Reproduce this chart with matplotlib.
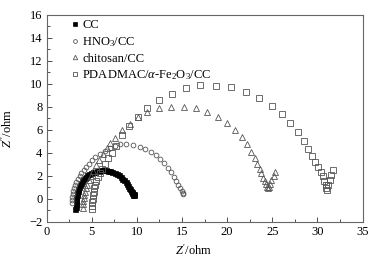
import matplotlib
matplotlib.use("Agg")
import matplotlib.pyplot as plt

plt.rcParams["font.family"] = "Liberation Serif"
plt.rcParams["mathtext.fontset"] = "custom"
plt.rcParams["mathtext.rm"] = "Liberation Serif"
plt.rcParams["mathtext.it"] = "Liberation Serif:italic"

# CC
cc_x = [3.2, 3.22, 3.24, 3.26, 3.28, 3.31, 3.35, 3.4, 3.46, 3.53, 3.61, 3.7, 3.8, 3.92,
        4.05, 4.2, 4.36, 4.53, 4.72, 4.92, 5.13, 5.35, 5.58, 5.82, 6.06, 6.3, 6.55, 6.8,
        7.05, 7.3, 7.54, 7.77, 8.0, 8.2, 8.4, 8.58, 8.75, 8.9, 9.04, 9.16, 9.27, 9.36,
        9.44, 9.5, 9.56, 9.6, 9.65, 9.68]
cc_y = [-0.9, -0.7, -0.5, -0.3, -0.1, 0.1, 0.3, 0.5, 0.7, 0.88, 1.05, 1.22, 1.38, 1.53,
        1.67, 1.8, 1.92, 2.03, 2.13, 2.22, 2.3, 2.36, 2.41, 2.44, 2.46, 2.46, 2.45, 2.42,
        2.38, 2.32, 2.24, 2.14, 2.02, 1.89, 1.75, 1.6, 1.44, 1.28, 1.12, 0.96, 0.82, 0.68,
        0.56, 0.46, 0.38, 0.33, 0.32, 0.36]

# HNO3/CC
hno3_x = [2.8, 2.82, 2.85, 2.9, 2.97, 3.05, 3.15, 3.3, 3.45, 3.65, 3.85, 4.1, 4.35, 4.65,
          5.0, 5.4, 5.9, 6.45, 7.0, 7.55, 8.15, 8.85, 9.6, 10.3, 10.95, 11.55, 12.1, 12.6,
          13.05, 13.45, 13.8, 14.1, 14.35, 14.6, 14.8, 14.97, 15.1, 15.15]
hno3_y = [-0.35, -0.1, 0.15, 0.4, 0.65, 0.9, 1.15, 1.45, 1.7, 1.95, 2.2, 2.5, 2.75, 3.05,
          3.35, 3.65, 3.9, 4.15, 4.4, 4.6, 4.72, 4.73, 4.67, 4.52, 4.35, 4.1, 3.8, 3.45,
          3.1, 2.7, 2.3, 1.9, 1.55, 1.2, 0.9, 0.65, 0.45, 0.38]

# chitosan/CC
chit_x = [4.0, 4.02, 4.05, 4.1, 4.15, 4.25, 4.35, 4.5, 4.7, 4.9, 5.15, 5.45, 5.8, 6.2,
          6.65, 7.05, 7.55, 8.3, 9.2, 10.1, 11.1, 12.5, 13.8, 15.2, 16.5, 17.8, 19.0, 20.0,
          20.9, 21.6, 22.15, 22.6, 23.05, 23.35, 23.6, 23.8, 24.0, 24.15, 24.3, 24.45,
          24.55, 24.65, 24.75, 24.9, 25.15, 25.35]
chit_y = [-0.8, -0.5, -0.2, 0.05, 0.3, 0.6, 0.9, 1.2, 1.6, 2.0, 2.4, 2.9, 3.4, 3.9,
          4.4, 4.85, 5.3, 5.95, 6.5, 7.1, 7.55, 7.85, 8.0, 8.0, 7.85, 7.5, 7.1, 6.55,
          5.95, 5.35, 4.75, 4.1, 3.5, 3.05, 2.6, 2.2, 1.8, 1.5, 1.25, 1.05,
          0.95, 1.0, 1.25, 1.6, 2.0, 2.35]

# PDADMAC/a-Fe2O3/CC
pd_x = [5.0, 5.03, 5.06, 5.1, 5.15, 5.22, 5.3, 5.4, 5.52, 5.68, 5.9, 6.15, 6.45, 6.8,
        7.2, 7.7, 8.4, 9.15, 10.1, 11.1, 12.47, 13.84, 15.45, 17.0, 18.75, 20.4, 22.1,
        23.55, 24.95, 26.05, 26.97, 27.85, 28.5, 29.0, 29.38, 29.72, 30.05, 30.35, 30.58,
        30.75, 30.9, 31.0, 31.05, 31.2, 31.37, 31.56, 31.78]
pd_y = [-0.9, -0.6, -0.3, 0.0, 0.3, 0.6, 0.9, 1.2, 1.5, 1.85, 2.2, 2.6, 3.05, 3.5,
        4.0, 4.6, 5.5, 6.35, 7.13, 7.86, 8.58, 9.1, 9.6, 9.89, 9.85, 9.7, 9.3,
        8.73, 8.03, 7.4, 6.56, 5.78, 5.0, 4.3, 3.72, 3.22, 2.78, 2.35, 1.93,
        1.55, 1.2, 0.9, 0.78, 1.19, 1.65, 2.1, 2.5]

edge = "#555555"

fig = plt.figure(figsize=(3.82, 2.61), dpi=100)
ax = fig.add_axes([0.122, 0.151, 0.827, 0.792])

ax.plot(cc_x, cc_y, "s", color="black", ms=3.6, mew=0.5, label="CC")
ax.plot(hno3_x, hno3_y, "o", mfc="none", mec=edge, ms=3.4, mew=0.6, label="HNO$_3$/CC")
ax.plot(chit_x, chit_y, "^", mfc="none", mec=edge, ms=4.0, mew=0.6, label="chitosan/CC")
ax.plot(pd_x, pd_y, "s", mfc="none", mec=edge, ms=4.0, mew=0.6,
        label=r"PDADMAC/$\mathit{\alpha}$-Fe$_2$O$_3$/CC")

ax.set_xlim(0, 35)
ax.set_ylim(-2, 16)
ax.set_xticks(range(0, 36, 5))
ax.set_yticks(range(-2, 17, 2))
ax.set_xticks([2.5 + 5 * i for i in range(7)], minor=True)
ax.set_yticks([-1 + 2 * i for i in range(9)], minor=True)
ax.tick_params(direction="in", labelsize=9, length=3.5, width=0.6, colors="#333333",
               labelcolor="black", pad=3)
ax.tick_params(which="minor", direction="in", length=2, width=0.6, colors="#333333")
for s in ax.spines.values():
    s.set_color("#666666")
    s.set_linewidth(0.8)

ax.set_xlabel("$Z'$/ohm", fontsize=9)
ax.set_ylabel("$Z''$/ohm", fontsize=9)
ax.xaxis.set_label_coords(0.465, -0.105)
ax.yaxis.set_label_coords(-0.10, 0.45)

ax.legend(loc="upper left", frameon=False, fontsize=9, handletextpad=0.1,
          handlelength=1.0, labelspacing=0.3, borderaxespad=0.2,
          bbox_to_anchor=(0.045, 1.015), markerscale=0.8)

fig.savefig("out.png", dpi=100)
